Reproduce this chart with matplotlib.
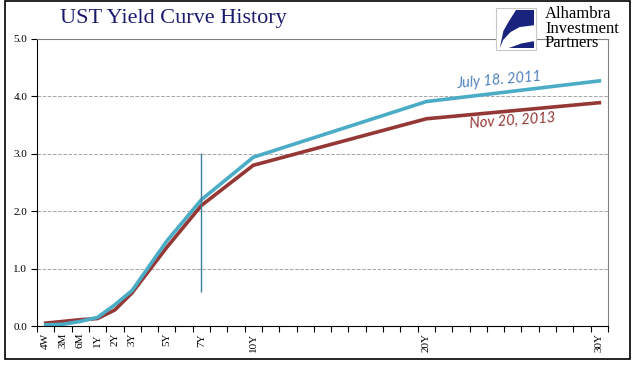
import matplotlib.pyplot as plt
from matplotlib.patches import Rectangle, Polygon

# ---------------- Data ----------------
categories = ['4W', '3M', '6M', '1Y', '2Y', '3Y', '', '5Y', '', '7Y', '', '', '10Y',
              '', '', '', '', '', '', '', '', '', '20Y',
              '', '', '', '', '', '', '', '', '', '30Y']
tenors = ['4W', '3M', '6M', '1Y', '2Y', '3Y', '5Y', '7Y', '10Y', '20Y', '30Y']
jul_2011 = [0.02, 0.03, 0.08, 0.15, 0.37, 0.62, 1.48, 2.20, 2.94, 3.91, 4.27]
nov_2013 = [0.05, 0.08, 0.11, 0.13, 0.28, 0.58, 1.37, 2.10, 2.80, 3.61, 3.89]
marker_lo, marker_hi = 0.59, 3.02

pos = [categories.index(t) for t in tenors]

# ---------------- Figure ----------------
fig = plt.figure(figsize=(6.41, 3.81), dpi=100)
fig.patches.append(Rectangle((5 / 641, 22 / 381), 625 / 641, 358 / 381,
                             transform=fig.transFigure, fill=False,
                             edgecolor='black', linewidth=1.2))

ax = fig.add_axes([37 / 641, 55 / 381, 571 / 641, 287 / 381])
ax.plot(pos, nov_2013, color='#953735', linewidth=2.6, solid_joinstyle='miter')
ax.plot(pos, jul_2011, color='#4BACC6', linewidth=2.6, solid_joinstyle='miter')
ax.vlines(categories.index('7Y'), marker_lo, marker_hi, color='#3f7f9f', linewidth=1)

ax.set_xlim(-0.5, len(categories) - 0.5)
ax.set_ylim(0, 5)
ax.set_yticks([0, 1, 2, 3, 4, 5])
ax.set_yticklabels(['%.1f' % v for v in range(6)], family='Liberation Serif', fontsize=8)
ax.tick_params(axis='y', length=4, width=0.8, pad=3)
ax.set_xticks(range(len(categories)))
ax.set_xticklabels(categories, rotation=90, family='Liberation Serif', fontsize=8)
ax.set_xticks([i - 0.5 for i in range(len(categories) + 1)], minor=True)
ax.tick_params(axis='x', which='major', length=0, pad=5)
ax.tick_params(axis='x', which='minor', length=4, width=0.8)

ax.grid(axis='y', color='#a6a6a6', linestyle='--', linewidth=0.7)
ax.spines['left'].set_color('black')
ax.spines['bottom'].set_color('black')
ax.spines['top'].set_color('#808080')
ax.spines['right'].set_color('#808080')

# labels on the lines
ax.text(26.2, 4.28, 'July 18. 2011', color='#4F81BD', fontsize=10.5, style='italic',
        family='Lato', rotation=5, ha='center', va='center')
ax.text(27.0, 3.58, 'Nov 20, 2013', color='#953735', fontsize=10.5, style='italic',
        family='Lato', rotation=4, ha='center', va='center')

# title
fig.text(173 / 641, 1 - 18 / 381, 'UST Yield Curve History', family='Liberation Serif',
         fontsize=16, color='#1c1c6e', ha='center', va='center')

# logo
lx, ly, lw, lh = 498 / 641, 1 - 48 / 381, 36 / 641, 38 / 381
fig.patches.append(Rectangle((lx - 2 / 641, ly - 2 / 381), lw + 4 / 641, lh + 4 / 381,
                             transform=fig.transFigure, facecolor='white',
                             edgecolor='#c8c8c8', linewidth=0.8, zorder=5))
fig.patches.append(Polygon([(lx + lw * 0.5, ly + lh), (lx + lw, ly + lh), (lx + lw, ly + lh * 0.6),
                            (lx + lw * 0.6, ly + lh * 0.55), (lx + lw * 0.35, ly + lh * 0.42),
                            (lx + lw * 0.15, ly + lh * 0.22), (lx + lw * 0.05, ly),
                            (lx + lw * 0.15, ly + lh * 0.45), (lx + lw * 0.3, ly + lh * 0.7)],
                           closed=True, transform=fig.transFigure, facecolor='#1a237e',
                           edgecolor='none', zorder=6))
fig.patches.append(Polygon([(lx + lw * 0.3, ly), (lx + lw, ly), (lx + lw, ly + lh * 0.18),
                            (lx + lw * 0.65, ly + lh * 0.12), (lx + lw * 0.45, ly + lh * 0.05)],
                           closed=True, transform=fig.transFigure, facecolor='#1a237e',
                           edgecolor='none', zorder=6))
fig.text(545 / 641, 1 - 6 / 381, 'Alhambra\nInvestment\nPartners', family='Liberation Serif',
         fontsize=12, color='black', ha='left', va='top', linespacing=0.88)

plt.savefig('out.png', dpi=100)
